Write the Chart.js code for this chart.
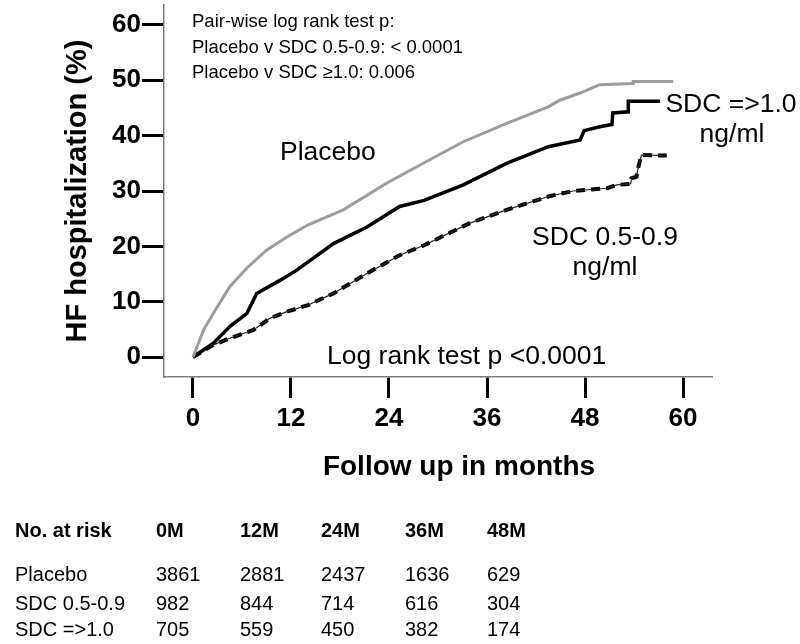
<!DOCTYPE html>
<html>
<head>
<meta charset="utf-8">
<script src="https://cdn.jsdelivr.net/npm/chart.js"></script>
<style>
  html, body { margin: 0; padding: 0; background: #fff; }
  #hfChart { display: block; }
</style>
</head>
<body>
<canvas id="hfChart" width="800" height="644"></canvas>
<script>
const xTicks = [0, 12, 24, 36, 48, 60];
const yTicks = [0, 10, 20, 30, 40, 50, 60];

// cumulative HF hospitalization (%)
const placeboMonths = [0, 1.3, 2.5, 4.5, 6.6, 9.0, 11.5, 14.1, 18.4, 23.7, 28.3, 33.1, 38.4, 43.5, 44.9, 47.4, 49.8, 53.9, 53.9, 58.8];
const placeboPct = [0, 4.9, 7.9, 12.7, 16.1, 19.3, 21.7, 23.9, 26.6, 31.4, 35.1, 38.9, 42.2, 45.2, 46.4, 47.7, 49.2, 49.4, 49.8, 49.8];

const sdcHighMonths = [0, 2.5, 4.5, 6.6, 7.8, 10.7, 12.7, 14.1, 17.2, 21.3, 25.3, 28.3, 33.1, 38.4, 43.5, 47.4, 47.9, 49.8, 51.3, 51.4, 53.3, 53.3, 57.2];
const sdcHighPct = [0, 2.5, 5.5, 7.9, 11.5, 13.9, 15.7, 17.2, 20.5, 23.5, 27.2, 28.3, 31.1, 35.0, 38.0, 39.2, 40.9, 41.6, 42.0, 44.1, 44.3, 46.2, 46.2];

const sdcLowMonths = [0, 2.5, 4.5, 7.4, 9.4, 11.5, 14.1, 17.2, 21.3, 25.3, 28.3, 33.9, 38.4, 43.5, 46.5, 50.7, 51.9, 53.6, 53.7, 54.3, 54.5, 54.9, 58.0];
const sdcLowPct = [0, 2.2, 3.4, 4.9, 7.0, 8.2, 9.4, 11.5, 15.1, 18.4, 20.2, 24.2, 26.6, 29.0, 30.0, 30.5, 31.1, 31.3, 32.3, 32.6, 34.1, 36.5, 36.4];

const riskColumns = ["0M", "12M", "24M", "36M", "48M"];
const riskGroups = ["Placebo", "SDC 0.5-0.9", "SDC =>1.0"];
const riskPlacebo = [3861, 2881, 2437, 1636, 629];
const riskSdcLow = [982, 844, 714, 616, 304];
const riskSdcHigh = [705, 559, 450, 382, 174];

const FONT = "'Liberation Sans', Arial, sans-serif";

const toPoints = (months, pct) => months.map((m, i) => ({ x: m, y: pct[i] }));

const textPlugin = {
  id: "hfText",
  afterDraw: (chart) => {
    const ctx = chart.ctx;
    ctx.save();
    ctx.fillStyle = "#000";
    ctx.textBaseline = "alphabetic";

    // p-values box
    ctx.font = "18.5px " + FONT;
    ctx.textAlign = "left";
    ctx.fillText("Pair-wise log rank test p:", 192, 27);
    ctx.fillText("Placebo v SDC 0.5-0.9: < 0.0001", 192, 52.5);
    ctx.fillText("Placebo v SDC \u22651.0: 0.006", 192, 78);

    // curve labels
    ctx.font = "26.5px " + FONT;
    ctx.fillText("Placebo", 280, 159.5);
    ctx.fillText("Log rank test p <0.0001", 327, 364);
    ctx.textAlign = "center";
    ctx.fillText("SDC =>1.0", 731, 112);
    ctx.fillText("ng/ml", 732, 142);
    ctx.fillText("SDC 0.5-0.9", 605, 245);
    ctx.fillText("ng/ml", 605, 275);

    // axis titles
    ctx.font = "bold 28px " + FONT;
    ctx.fillText("Follow up in months", 459, 475);
    ctx.save();
    ctx.translate(86, 191);
    ctx.rotate(-Math.PI / 2);
    ctx.font = "bold 29px " + FONT;
    ctx.fillText("HF hospitalization (%)", 0, 0);
    ctx.restore();

    // number at risk table
    const colX = [156, 240, 321, 405, 487];
    const rowY = [581, 610, 636];
    ctx.textAlign = "left";
    ctx.font = "bold 20px " + FONT;
    ctx.fillText("No. at risk", 15, 537);
    riskColumns.forEach((c, i) => ctx.fillText(c, colX[i], 537));
    ctx.font = "20px " + FONT;
    [riskPlacebo, riskSdcLow, riskSdcHigh].forEach((row, r) => {
      ctx.fillText(riskGroups[r], 15, rowY[r]);
      row.forEach((v, i) => ctx.fillText(String(v), colX[i], rowY[r]));
    });
    ctx.restore();
  },
};

new Chart("hfChart", {
  type: "line",
  data: {
    datasets: [
      {
        label: "Placebo",
        data: toPoints(placeboMonths, placeboPct),
        borderColor: "#9c9c9c",
        borderWidth: 3,
      },
      {
        label: "SDC =>1.0",
        data: toPoints(sdcHighMonths, sdcHighPct),
        borderColor: "#000",
        borderWidth: 3.5,
      },
      {
        label: "SDC 0.5-0.9 thin",
        data: toPoints(sdcLowMonths, sdcLowPct),
        borderColor: "#222",
        borderWidth: 1.2,
      },
      {
        label: "SDC 0.5-0.9",
        data: toPoints(sdcLowMonths, sdcLowPct),
        borderColor: "#000",
        borderWidth: 4,
        borderDash: [9, 6],
      },
    ],
  },
  options: {
    responsive: false,
    animation: false,
    elements: {
      point: { radius: 0 },
      line: { tension: 0, borderCapStyle: "butt" },
    },
    layout: { padding: { left: 0, top: 5, right: 88, bottom: 207 } },
    plugins: {
      legend: { display: false },
      tooltip: { enabled: false },
    },
    scales: {
      x: {
        type: "linear",
        min: -3.55,
        max: 63.55,
        afterBuildTicks: (s) => {
          s.ticks = xTicks.map((v) => ({ value: v }));
        },
        afterFit: (s) => {
          s.height = 60;
          s.paddingLeft = 0;
          s.paddingRight = 0;
        },
        border: { display: true, color: "#7a7a7a", width: 1.5 },
        grid: {
          drawOnChartArea: false,
          drawTicks: true,
          tickLength: 21,
          tickWidth: 3,
          tickColor: "#000",
        },
        ticks: {
          color: "#000",
          padding: 5,
          maxRotation: 0,
          font: { family: FONT, size: 26, weight: "bold" },
        },
      },
      y: {
        type: "linear",
        min: -3.6,
        max: 63.6,
        afterBuildTicks: (s) => {
          s.ticks = yTicks.map((v) => ({ value: v }));
        },
        afterFit: (s) => {
          s.width = 164;
          s.paddingTop = 0;
          s.paddingBottom = 0;
        },
        border: { display: true, color: "#7a7a7a", width: 1.5 },
        grid: {
          drawOnChartArea: false,
          drawTicks: true,
          tickLength: 22,
          tickWidth: 3,
          tickColor: "#000",
        },
        ticks: {
          color: "#000",
          padding: 1,
          font: { family: FONT, size: 26, weight: "bold" },
        },
      },
    },
  },
  plugins: [textPlugin],
});
</script>
</body>
</html>
